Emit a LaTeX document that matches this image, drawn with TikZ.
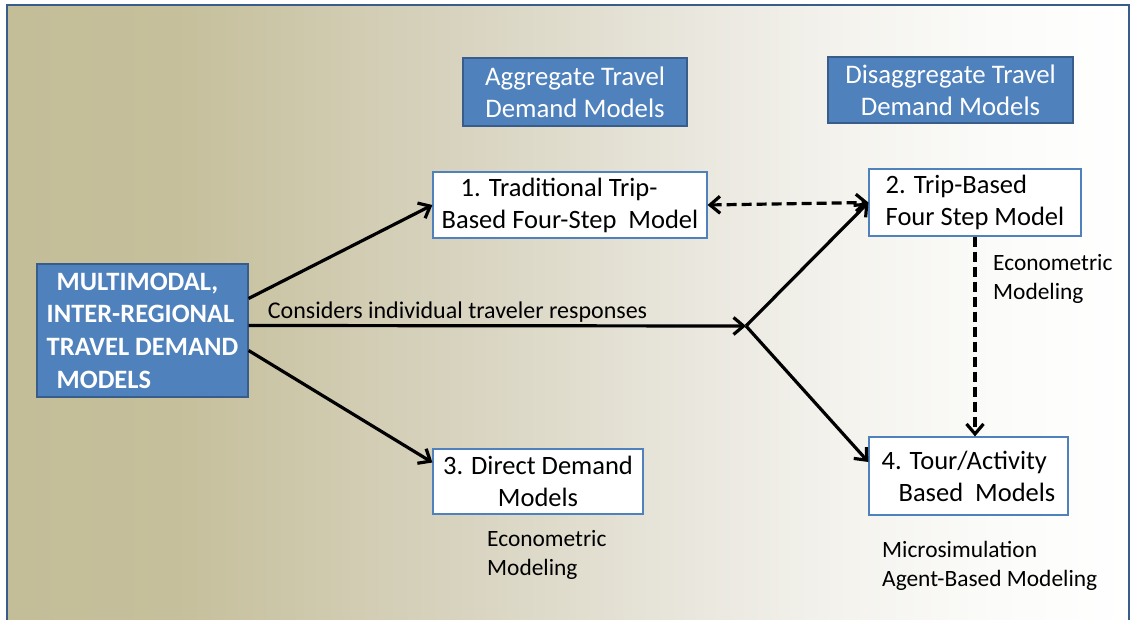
\documentclass[tikz,border=0pt]{standalone}
\usepackage{fontspec}
\setmainfont{Carlito}
\usetikzlibrary{arrows.meta}

\definecolor{boxblue}{HTML}{4F81BD}
\definecolor{lineblue}{HTML}{385D8A}
\definecolor{bgtanA}{HTML}{C3BD98}
\definecolor{bgtanB}{HTML}{C5BF9B}
\definecolor{bgtanC}{HTML}{D8D3BF}
\definecolor{bgtanD}{HTML}{E8E6DC}
\definecolor{bgtanE}{HTML}{F4F3EE}
\definecolor{bgtanF}{HTML}{FBFBF9}
% tan fading to white, left to right
\pgfdeclarehorizontalshading{bgfade}{100bp}{color(0bp)=(bgtanA); color(25bp)=(bgtanA);
  color(32.5bp)=(bgtanB); color(45bp)=(bgtanC); color(55bp)=(bgtanD);
  color(62.5bp)=(bgtanE); color(69bp)=(bgtanF); color(75bp)=(white); color(100bp)=(white)}

\begin{document}
\begin{tikzpicture}[x=1pt,y=-1pt,
% common options for the blue headers:
block/.style = {draw=lineblue, fill=boxblue, text=white, align=center, line width=1.2pt,
            inner sep=0, font=\fontsize{26.8}{32}\selectfont},
% common options for the model boxes:
model/.style = {draw=boxblue, fill=white, align=center, line width=1.2pt, inner sep=0,
            font=\fontsize{26.5}{32}\selectfont},
% side notes:
note/.style = {align=left, anchor=west, inner sep=0, font=\fontsize{23.4}{29.5}\selectfont},
link/.style = {line width=3.2pt},
>={Straight Barb[length=10pt,width=17pt]}]
\useasboundingbox (0,0) rectangle (1135,620);
\draw[lineblue, line width=1.5pt, shading=bgfade] (7,5) rectangle (1129,640);
\node[block,minimum width=211pt,minimum height=133pt,align=left,
      font=\fontsize{26.5}{32.7}\selectfont\bfseries] (M0) at (142.5,330.5)
      {\hspace*{10pt}MULTIMODAL,\\INTER-REGIONAL\\TRAVEL DEMAND\\\hspace*{10pt}MODELS};
\node[block,minimum width=224pt,minimum height=68pt] (A0) at (575,92) {Aggregate Travel\\Demand Models};
\node[block,minimum width=245pt,minimum height=66pt] (B0) at (950.5,90) {Disaggregate Travel\\Demand Models};
\node[model,minimum width=274pt,minimum height=66pt,align=left] (A1) at (570,205)
      {\hspace*{19pt}1. Traditional Trip-\\Based Four-Step\ \ Model};
\node[model,minimum width=210pt,minimum height=65pt] (A2) at (538,481.5) {3. Direct Demand\\Models};
\node[model,minimum width=212pt,minimum height=67pt,align=left] (B1) at (975,202.5) {2. Trip-Based\\Four Step Model};
\node[model,minimum width=199pt,minimum height=78pt,align=left] (B2) at (968.5,476)
      {4. Tour/Activity\\\hspace*{17pt}Based\ \ Models};
\node[note] (N1) at (993,279) {Econometric\\Modeling};
\node[note] (N2) at (487,555) {Econometric\\Modeling};
\node[note] (N3) at (882,566) {Microsimulation\\Agent-Based Modeling};
\coordinate (fork) at (746,326);
\draw[link,->] ([yshift=32pt]M0.east) to (A1.west);
\draw[link,->] ([yshift=-20pt]M0.east) to ([yshift=19pt]A2.west);
\draw[link,->] ([yshift=5pt]M0.east) to
  node[pos=0.42,above=2pt,inner sep=0,font=\fontsize{24}{28}\selectfont] (C0) {Considers individual traveler responses} (fork);
\draw[link,->] (fork) to (B1.west);
\draw[link,->] (fork) to ([yshift=14pt]B2.west);
\draw[link,<->,dash pattern=on 10pt off 5pt] (A1.east) to (B1.west);
\draw[link,->,dash pattern=on 10pt off 5pt] (B1.south) to (B1.south |- B2.north);
\end{tikzpicture}
\end{document}
